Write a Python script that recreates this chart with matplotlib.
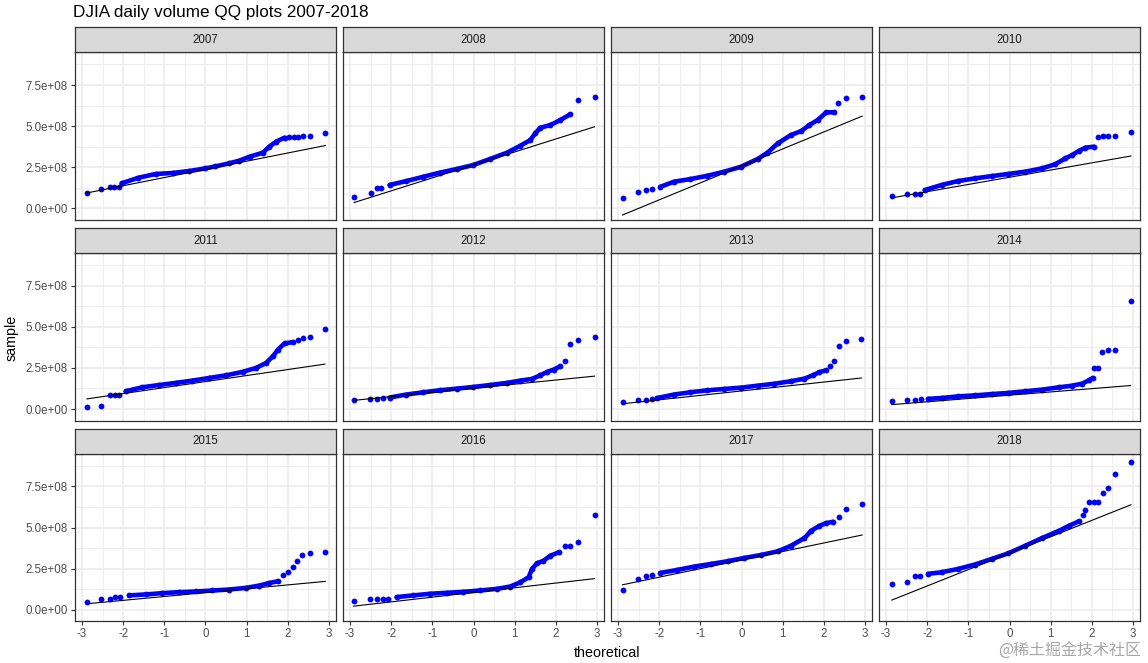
import numpy as np
import matplotlib
matplotlib.use("Agg")
import matplotlib.pyplot as plt
from matplotlib.ticker import FuncFormatter, MultipleLocator

plt.rcParams['font.family'] = ['Liberation Sans', 'DejaVu Sans']
plt.rcParams['axes.unicode_minus'] = False

# ==========================
# data (volume in units of 1e8 shares)
# ==========================
years = list(range(2007, 2019))

# dense middle part of each QQ plot: theoretical quantile / sample volume
band_q = [
    [-2.04, -1.63, -1.21, -0.80, -0.39, 0.0, 0.24, 0.58, 0.82, 1.07, 1.39, 1.55, 1.71, 1.92],
    [-2.04, -1.63, -1.22, -0.82, -0.41, -0.01, 0.40, 0.81, 1.14, 1.38, 1.50, 1.62, 1.87, 2.11, 2.35],
    [-1.97, -1.64, -1.24, -0.83, -0.42, -0.01, 0.39, 0.63, 0.88, 1.20, 1.45, 1.65, 1.85, 2.06, 2.24],
    [-2.06, -1.65, -1.25, -0.84, -0.43, -0.03, 0.38, 0.79, 1.11, 1.36, 1.52, 1.68, 1.84, 2.05],
    [-1.94, -1.54, -1.13, -0.72, -0.32, 0.09, 0.50, 0.90, 1.23, 1.47, 1.64, 1.76, 1.92, 2.12],
    [-2.04, -1.63, -1.22, -0.82, -0.41, -0.01, 0.40, 0.81, 1.14, 1.42, 1.62, 1.79, 1.95, 2.11],
    [-2.05, -1.64, -1.24, -0.83, -0.42, -0.01, 0.39, 0.80, 1.20, 1.53, 1.73, 1.89, 2.06],
    [-1.98, -1.65, -1.25, -0.84, -0.43, -0.03, 0.38, 0.79, 1.20, 1.52, 1.76, 1.93, 2.02],
    [-1.86, -1.45, -1.05, -0.64, -0.23, 0.17, 0.58, 0.98, 1.31, 1.55, 1.76],
    [-1.87, -1.47, -1.06, -0.65, -0.25, 0.16, 0.57, 0.89, 1.14, 1.34, 1.42, 1.54, 1.70, 1.87, 2.07],
    [-1.97, -1.56, -1.16, -0.75, -0.34, 0.07, 0.47, 0.88, 1.20, 1.53, 1.69, 1.89, 2.06, 2.22],
    [-1.98, -1.65, -1.25, -0.84, -0.43, -0.03, 0.38, 0.79, 1.20, 1.44, 1.68],
]
band_v = [
    [1.52, 1.86, 2.09, 2.15, 2.27, 2.43, 2.55, 2.74, 2.90, 3.14, 3.38, 3.75, 4.05, 4.30],
    [1.42, 1.66, 1.92, 2.17, 2.39, 2.63, 3.00, 3.38, 3.81, 4.15, 4.56, 4.90, 5.07, 5.37, 5.72],
    [1.31, 1.62, 1.78, 1.98, 2.23, 2.53, 3.00, 3.38, 3.95, 4.46, 4.70, 5.07, 5.37, 5.84, 5.84],
    [1.11, 1.42, 1.66, 1.82, 1.96, 2.09, 2.23, 2.43, 2.68, 3.04, 3.24, 3.49, 3.69, 3.75],
    [1.08, 1.32, 1.46, 1.59, 1.73, 1.89, 2.05, 2.26, 2.50, 2.80, 3.21, 3.62, 3.99, 4.07],
    [0.70, 0.88, 1.02, 1.14, 1.24, 1.34, 1.46, 1.59, 1.73, 1.83, 2.05, 2.26, 2.40, 2.60],
    [0.67, 0.88, 1.02, 1.14, 1.22, 1.30, 1.42, 1.54, 1.69, 1.85, 2.05, 2.24, 2.36],
    [0.62, 0.67, 0.77, 0.83, 0.91, 0.98, 1.08, 1.18, 1.32, 1.42, 1.54, 1.75, 1.89],
    [0.87, 0.93, 1.01, 1.07, 1.11, 1.17, 1.23, 1.33, 1.47, 1.63, 1.73],
    [0.77, 0.87, 0.97, 1.03, 1.09, 1.17, 1.27, 1.41, 1.67, 1.98, 2.48, 2.82, 2.98, 3.29, 3.49],
    [2.24, 2.42, 2.62, 2.78, 2.95, 3.15, 3.33, 3.55, 3.89, 4.36, 4.80, 5.10, 5.27, 5.35],
    [2.18, 2.28, 2.48, 2.75, 3.09, 3.43, 3.89, 4.36, 4.80, 5.10, 5.37],
]

# separate points in both tails
tail_q = [
    [-2.88, -2.53, -2.33, -2.23, -2.11, 2.04, 2.14, 2.25, 2.37, 2.54, 2.91],
    [-2.90, -2.50, -2.35, -2.24, 2.55, 2.94],
    [-2.89, -2.51, -2.31, -2.17, 2.34, 2.54, 2.93],
    [-2.86, -2.49, -2.30, -2.18, 2.15, 2.27, 2.39, 2.57, 2.95],
    [-2.88, -2.53, -2.33, -2.20, -2.09, 2.24, 2.37, 2.54, 2.90],
    [-2.91, -2.51, -2.35, -2.20, 2.22, 2.34, 2.54, 2.94],
    [-2.89, -2.51, -2.31, -2.17, 2.14, 2.24, 2.36, 2.54, 2.91],
    [-2.86, -2.49, -2.30, -2.14, 2.05, 2.15, 2.25, 2.39, 2.57, 2.94],
    [-2.88, -2.53, -2.33, -2.19, -2.07, 1.88, 2.00, 2.12, 2.22, 2.35, 2.54, 2.91],
    [-2.91, -2.51, -2.35, -2.20, -2.08, 2.23, 2.35, 2.54, 2.94],
    [-2.89, -2.51, -2.32, -2.17, 2.36, 2.54, 2.93],
    [-2.86, -2.49, -2.30, -2.18, 1.78, 1.84, 1.93, 2.05, 2.15, 2.26, 2.39, 2.57, 2.95],
]
tail_v = [
    [0.91, 1.17, 1.28, 1.28, 1.30, 4.33, 4.35, 4.36, 4.37, 4.37, 4.56],
    [0.69, 0.91, 1.22, 1.26, 6.61, 6.77],
    [0.61, 1.01, 1.09, 1.17, 6.42, 6.69, 6.79],
    [0.77, 0.85, 0.85, 0.85, 4.32, 4.42, 4.42, 4.42, 4.66],
    [0.12, 0.21, 0.88, 0.88, 0.88, 4.17, 4.29, 4.37, 4.88],
    [0.57, 0.63, 0.63, 0.66, 2.91, 3.96, 4.21, 4.37],
    [0.41, 0.57, 0.57, 0.61, 2.64, 2.91, 3.82, 4.13, 4.23],
    [0.47, 0.57, 0.57, 0.61, 2.50, 2.50, 3.48, 3.56, 3.56, 6.57],
    [0.47, 0.67, 0.67, 0.77, 0.77, 2.12, 2.28, 2.62, 2.95, 3.35, 3.43, 3.49],
    [0.53, 0.67, 0.67, 0.67, 0.68, 3.89, 3.89, 4.14, 5.75],
    [1.23, 1.88, 2.08, 2.14, 5.61, 6.11, 6.41],
    [1.57, 1.67, 2.04, 2.04, 5.77, 6.07, 6.58, 6.58, 6.58, 7.12, 7.38, 8.27, 9.00],
]

# qq reference line: intercept and slope (1e8)
line_a = [2.37, 2.64, 2.58, 1.89, 1.67, 1.26, 1.10, 0.84, 1.04, 1.05, 3.02, 3.44]
line_b = [0.498, 0.789, 1.033, 0.438, 0.366, 0.252, 0.270, 0.200, 0.235, 0.286, 0.520, 0.998]

# ==========================
# layout (pixels)
# ==========================
W, H = 1148, 663
fig = plt.figure(figsize=(W / 100, H / 100), dpi=100)

pan_w, pan_h, strip_h = 261, 167.7, 25
lefts = [75 + i * 268 for i in range(4)]
tops = [52.3 + r * 200.7 for r in range(3)]

grid_c = '#EBEBEB'
border_c = '#333333'
sci = FuncFormatter(lambda v, p: '{:.1e}'.format(v))

for i, yr in enumerate(years):
    r, c = divmod(i, 4)
    x0, y0 = lefts[c], tops[r]
    ax = fig.add_axes([x0 / W, 1 - (y0 + pan_h) / H, pan_w / W, pan_h / H])
    sax = fig.add_axes([x0 / W, 1 - y0 / H, pan_w / W, strip_h / H])

    q_all = np.array(band_q[i] + tail_q[i])
    bv = np.array(band_v[i]) * 1e8
    tv = np.array(tail_v[i]) * 1e8

    # dense run of points -> thick band, plus the single points
    ax.plot(band_q[i], bv, color='blue', lw=3.3, solid_capstyle='round',
            solid_joinstyle='round', zorder=3)
    ax.plot(band_q[i], bv, 'o', color='blue', ms=4.2, mec='none', zorder=3)
    ax.plot(tail_q[i], tv, 'o', color='blue', ms=4.2, mec='none', zorder=3)

    lx = np.array([q_all.min(), q_all.max()])
    ax.plot(lx, (line_a[i] + line_b[i] * lx) * 1e8, color='black', lw=0.8, zorder=4)

    ax.set_xlim(-3.17, 3.17)
    ax.set_ylim(-0.71e8, 9.49e8)
    ax.set_xticks(range(-3, 4))
    ax.xaxis.set_minor_locator(MultipleLocator(0.5))
    ax.set_yticks([0, 2.5e8, 5e8, 7.5e8])
    ax.yaxis.set_minor_locator(MultipleLocator(1.25e8))
    ax.yaxis.set_major_formatter(sci)
    ax.grid(True, which='major', color=grid_c, lw=1.1, zorder=0)
    ax.grid(True, which='minor', color=grid_c, lw=0.55, zorder=0)
    ax.set_axisbelow(True)
    for s in ax.spines.values():
        s.set_color(border_c)
        s.set_linewidth(0.9)
    ax.tick_params(which='minor', length=0)
    ax.tick_params(which='major', length=3, width=0.8, color=border_c,
                   labelsize=8.3, labelcolor='#4D4D4D', pad=2)
    if c != 0:
        ax.tick_params(axis='y', length=0, labelleft=False)
    if r != 2:
        ax.tick_params(axis='x', length=0, labelbottom=False)

    sax.set_facecolor('#D9D9D9')
    sax.set_xticks([])
    sax.set_yticks([])
    for s in sax.spines.values():
        s.set_color(border_c)
        s.set_linewidth(0.9)
    sax.text(0.5, 0.5, str(yr), ha='center', va='center', fontsize=8.3,
             color='#1A1A1A', transform=sax.transAxes)

fig.text(73 / W, 1 - 12 / H, 'DJIA daily volume QQ plots 2007-2018',
         ha='left', va='center', fontsize=12.3)
fig.text(12 / W, 1 - 338 / H, 'sample', rotation=90, ha='center', va='center', fontsize=10.3)
fig.text(607 / W, 1 - 653 / H, 'theoretical', ha='center', va='center', fontsize=10.3)
fig.text(1141 / W, 1 - 651 / H, '@稀土掘金技术社区', ha='right', va='center',
         fontsize=11.5, color='#A8A8A8', family=['Noto Sans CJK SC', 'DejaVu Sans'])

fig.savefig('out.png', dpi=100)
